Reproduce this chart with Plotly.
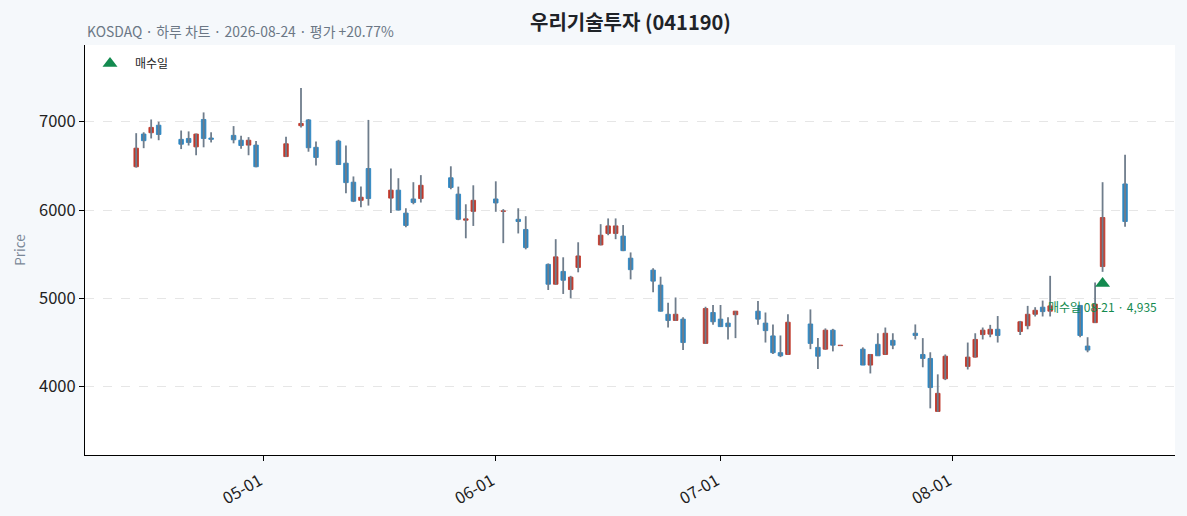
import plotly.graph_objects as go

# daily candles (KOSDAQ 041190)
dates = [
    "2026-04-14", "2026-04-15", "2026-04-16", "2026-04-17", "2026-04-20", "2026-04-21", "2026-04-22",
    "2026-04-23", "2026-04-24", "2026-04-27", "2026-04-28", "2026-04-29", "2026-04-30", "2026-05-04",
    "2026-05-06", "2026-05-07", "2026-05-08", "2026-05-11", "2026-05-12", "2026-05-13", "2026-05-14",
    "2026-05-15", "2026-05-18", "2026-05-19", "2026-05-20", "2026-05-21", "2026-05-22", "2026-05-26",
    "2026-05-27", "2026-05-28", "2026-05-29", "2026-06-01", "2026-06-02", "2026-06-04", "2026-06-05",
    "2026-06-08", "2026-06-09", "2026-06-10", "2026-06-11", "2026-06-12", "2026-06-15", "2026-06-16",
    "2026-06-17", "2026-06-18", "2026-06-19", "2026-06-22", "2026-06-23", "2026-06-24", "2026-06-25",
    "2026-06-26", "2026-06-29", "2026-06-30", "2026-07-01", "2026-07-02", "2026-07-03", "2026-07-06",
    "2026-07-07", "2026-07-08", "2026-07-09", "2026-07-10", "2026-07-13", "2026-07-14", "2026-07-15",
    "2026-07-16", "2026-07-17", "2026-07-20", "2026-07-21", "2026-07-22", "2026-07-23", "2026-07-24",
    "2026-07-27", "2026-07-28", "2026-07-29", "2026-07-30", "2026-07-31", "2026-08-03", "2026-08-04",
    "2026-08-05", "2026-08-06", "2026-08-07", "2026-08-10", "2026-08-11", "2026-08-12", "2026-08-13",
    "2026-08-14", "2026-08-18", "2026-08-19", "2026-08-20", "2026-08-21", "2026-08-24",
]
opens = [
    6490, 6860, 6875, 6960, 6800, 6810, 6715, 7025, 6815, 6845, 6790, 6735, 6735, 6605,
    6955, 7020, 6710, 6780, 6530, 6315, 6110, 6470, 6135, 6225, 5965, 6125, 6130, 6365,
    6180, 5885, 5985, 6125, 5985, 5895, 5780, 5385, 5160, 5305, 5100, 5350, 5605, 5735,
    5735, 5705, 5455, 5320, 5150, 4820, 4750, 4765, 4490, 4840, 4765, 4720, 4815, 4855,
    4720, 4575, 4385, 4365, 4710, 4445, 4425, 4640, 4465, 4425, 4245, 4480, 4365, 4525,
    4605, 4365, 4320, 3720, 4090, 4230, 4335, 4590, 4595, 4650, 4625, 4690, 4820, 4900,
    4855, 4920, 4460, 4725, 5360, 6295,
]
highs = [
    6870, 6880, 7025, 7000, 6900, 6890, 6865, 7105, 6880, 6950, 6840, 6825, 6780, 6830,
    7380, 7030, 6775, 6795, 6730, 6380, 6265, 7020, 6470, 6360, 6020, 6315, 6395, 6495,
    6265, 6065, 6280, 6325, 6010, 6020, 5930, 5395, 5670, 5465, 5255, 5635, 5840, 5905,
    5905, 5830, 5520, 5340, 5245, 4950, 5010, 4785, 4905, 4925, 4925, 4785, 4855, 4970,
    4840, 4705, 4580, 4820, 4875, 4550, 4660, 4655, 4472, 4445, 4370, 4605, 4670, 4605,
    4705, 4550, 4390, 4140, 4365, 4500, 4605, 4670, 4700, 4800, 4745, 4915, 4900, 4975,
    5255, 4925, 4560, 5180, 6315, 6625,
]
lows = [
    6480, 6700, 6810, 6790, 6690, 6730, 6620, 6710, 6765, 6755, 6695, 6620, 6485, 6600,
    6935, 6660, 6505, 6510, 6190, 6090, 6030, 6050, 5965, 5995, 5805, 6065, 6085, 6235,
    5885, 5680, 5820, 5980, 5625, 5735, 5555, 5095, 5155, 5050, 5000, 5295, 5600, 5715,
    5670, 5535, 5215, 5070, 4850, 4670, 4745, 4415, 4485, 4700, 4680, 4535, 4550, 4700,
    4500, 4370, 4335, 4365, 4425, 4200, 4420, 4400, 4463, 4245, 4150, 4350, 4365, 4425,
    4535, 4220, 3755, 3715, 4075, 4195, 4330, 4535, 4560, 4500, 4585, 4650, 4795, 4795,
    4795, 4560, 4390, 4720, 5300, 5810,
]
closes = [
    6700, 6785, 6935, 6855, 6745, 6765, 6860, 6810, 6800, 6795, 6730, 6790, 6490, 6750,
    6980, 6705, 6595, 6515, 6310, 6100, 6145, 6130, 6225, 6000, 5825, 6085, 6280, 6255,
    5895, 5900, 6110, 6080, 5990, 5870, 5575, 5160, 5470, 5205, 5240, 5480, 5715, 5820,
    5820, 5540, 5325, 5195, 4855, 4750, 4820, 4500, 4885, 4735, 4680, 4680, 4855, 4765,
    4635, 4385, 4350, 4730, 4490, 4345, 4640, 4470, 4470, 4245, 4365, 4350, 4605, 4470,
    4580, 4320, 3990, 3925, 4345, 4335, 4535, 4640, 4650, 4580, 4735, 4820, 4865, 4850,
    4915, 4580, 4415, 4935, 5915, 5870,
]

buy_date = "2026-08-21"
buy_price = 4935

UP = "#c0392b"
DOWN = "#2e86c1"
WICK = "#6f7d8c"
GREEN = "#138a4f"
FONT = "Noto Sans CJK KR"

# wicks as one broken line
wx, wy = [], []
for d, h, l in zip(dates, highs, lows):
    wx += [d, d, None]
    wy += [l, h, None]

body_base = [min(o, c) for o, c in zip(opens, closes)]
body_len = [abs(c - o) for o, c in zip(opens, closes)]
body_col = [UP if c >= o else DOWN for o, c in zip(opens, closes)]

fig = go.Figure()
fig.add_trace(go.Scatter(x=wx, y=wy, mode="lines", line=dict(color=WICK, width=1.8),
                         showlegend=False, hoverinfo="skip"))
fig.add_trace(go.Bar(x=dates, y=body_len, base=body_base, width=0.6 * 86400000,
                     marker=dict(color=body_col, line=dict(color=body_col, width=0.9)),
                     showlegend=False))

bi = dates.index(buy_date)
fig.add_trace(go.Scatter(x=[buy_date], y=[lows[bi] * 0.975], mode="markers", name="매수일",
                         marker=dict(symbol="triangle-up", size=13, color=GREEN)))
fig.add_annotation(x=buy_date, y=lows[bi] * 0.975, text=f"매수일 {buy_date[5:]} · {buy_price:,}",
                   showarrow=False, yshift=-23, font=dict(size=12, color=GREEN, family=FONT))

fig.add_annotation(xref="paper", yref="paper", x=0.5, y=1, yshift=24, yanchor="middle",
                   text="<b>우리기술투자 (041190)</b>", showarrow=False,
                   font=dict(size=20, color="#1f2328", family=FONT))
fig.add_annotation(xref="paper", yref="paper", x=0, y=1, yshift=2, xanchor="left", yanchor="bottom",
                   text="KOSDAQ · 하루 차트 · 2026-08-24 · 평가 +20.77%", showarrow=False,
                   font=dict(size=13.9, color="#6b7785", family=FONT))

fig.update_layout(
    width=1187, height=516,
    margin=dict(l=85, r=12, t=45, b=61),
    paper_bgcolor="#f5f8fb", plot_bgcolor="white",
    font=dict(family=FONT, size=16.5, color="#222"),
    barmode="overlay",
    legend=dict(x=0, y=0.99, xanchor="left", yanchor="top", bgcolor="rgba(255,255,255,0.8)",
                itemwidth=40, font=dict(size=12, color="#222")),
)
fig.update_xaxes(type="date", range=["2026-04-07 04:00", "2026-08-30 16:00"],
                 dtick="M1", tick0="2026-01-01", tickformat="%m-%d", tickangle=-30,
                 ticklabelshift=-4, ticklabelstandoff=4, automargin=False,
                 showline=True, linecolor="black", linewidth=1, ticks="outside", ticklen=5,
                 tickcolor="black", showgrid=False, zeroline=False)
fig.update_yaxes(range=[3227, 7868], dtick=1000, tickformat="d", automargin=False,
                 showline=True, linecolor="black", linewidth=1, ticks="outside", ticklen=5,
                 tickcolor="black", showgrid=True, gridcolor="#e6e6e6", griddash="dash",
                 zeroline=False, title=dict(text="Price", standoff=10, font=dict(size=13.5, color="#7a8797")))

fig.write_html("out.html", post_script="document.body.style.margin='0';",
               config={"displayModeBar": False})
